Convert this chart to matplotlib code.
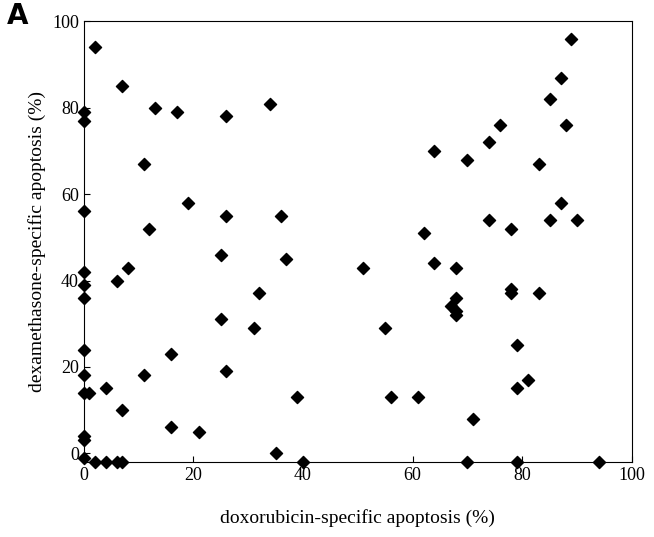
import matplotlib
matplotlib.use("Agg")
import matplotlib.pyplot as plt

doxo = [0, 0, 0, 0, 0, 0, 0, 0, 0, 0, 0, 0, 1, 2, 2, 4, 4, 6, 7, 6, 7, 7, 8, 11, 11, 12, 13, 16, 16,
        17, 19, 21, 25, 25, 26, 26, 26, 31, 32, 34, 35, 36, 37, 39, 40, 51, 55, 56, 61, 62, 64, 64,
        67, 68, 68, 68, 68, 70, 70, 71, 74, 74, 76, 78, 78, 78, 79, 79, 79, 81, 83, 83, 85, 85, 87,
        87, 88, 89, 90, 94]
dexa = [79, 77, 56, 42, 39, 36, 24, 18, 14, 4, 3, -1, 14, 94, -2, -2, 15, -2, -2, 40, 85, 10, 43,
        67, 18, 52, 80, 23, 6, 79, 58, 5, 46, 31, 78, 55, 19, 29, 37, 81, 0, 55, 45, 13, -2, 43, 29,
        13, 13, 51, 70, 44, 34, 43, 36, 33, 32, 68, -2, 8, 72, 54, 76, 52, 38, 37, 25, 15, -2, 17,
        67, 37, 82, 54, 87, 58, 76, 96, 54, -2]

plt.rcParams['font.family'] = ['Liberation Serif', 'DejaVu Serif']
fig = plt.figure(figsize=(6.54, 5.37), dpi=100)
ax = fig.add_axes([0.128, 0.14, 0.838, 0.82])
ax.scatter(doxo, dexa, marker='D', s=38, color='black', clip_on=False, zorder=3)
ax.set_xlim(0, 100)
ax.set_ylim(-2, 100)
ax.set_xticks(range(0, 101, 20))
ax.set_yticks(range(0, 101, 20))
ax.tick_params(labelsize=13, direction='in', length=4)
ax.set_xlabel("doxorubicin-specific apoptosis (%)", fontsize=14, labelpad=18)
ax.set_ylabel("dexamethasone-specific apoptosis (%)", fontsize=14)
fig.text(0.01, 0.955, "A", fontsize=20, fontweight='bold', family='DejaVu Sans')
fig.savefig("out.png")
